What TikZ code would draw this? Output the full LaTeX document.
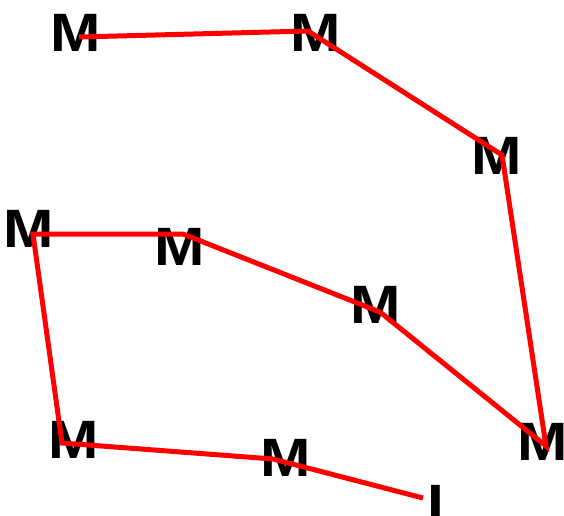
\documentclass[tikz,border=0pt]{standalone}
\usepackage{fontspec}
\setmainfont{Liberation Sans}
\newfontfamily\labelfont[FakeStretch=1.12]{Liberation Sans Bold}
\begin{document}
\begin{tikzpicture}[x=1pt,y=-1pt,
  letter/.style={inner sep=0pt,outer sep=0pt,font=\labelfont\fontsize{54}{54}\selectfont,text=black},
  path/.style={draw=red,line width=5pt,line join=miter}]
\useasboundingbox (0,0) rectangle (564,515);
\node[letter] (m1) at (75.5,33) {M};
\node[letter] (m2) at (316,33) {M};
\node[letter] (m3) at (497,156) {M};
\node[letter] (m4) at (28.5,228.5) {M};
\node[letter] (m5) at (180,247) {M};
\node[letter] (m6) at (376,305) {M};
\node[letter] (m7) at (543,442) {M};
\node[letter] (m8) at (74,440) {M};
\node[letter] (m9) at (286,458) {M};
\node[letter] (i1) at (436,504) {I};
\coordinate (p1) at (79,37);
\coordinate (p2) at (308,31);
\coordinate (p3) at (502,155);
\coordinate (p4) at (546,446);
\coordinate (p5) at (380,312);
\coordinate (p6) at (183,234);
\coordinate (p7) at (33,234);
\coordinate (p8) at (62,443);
\coordinate (p9) at (273,459);
\coordinate (p10) at (423,498);
\draw[path] (p1) -- (p2) -- (p3) -- (p4) -- (p5) -- (p6) -- (p7) -- (p8) -- (p9) -- (p10);
\end{tikzpicture}
\end{document}
